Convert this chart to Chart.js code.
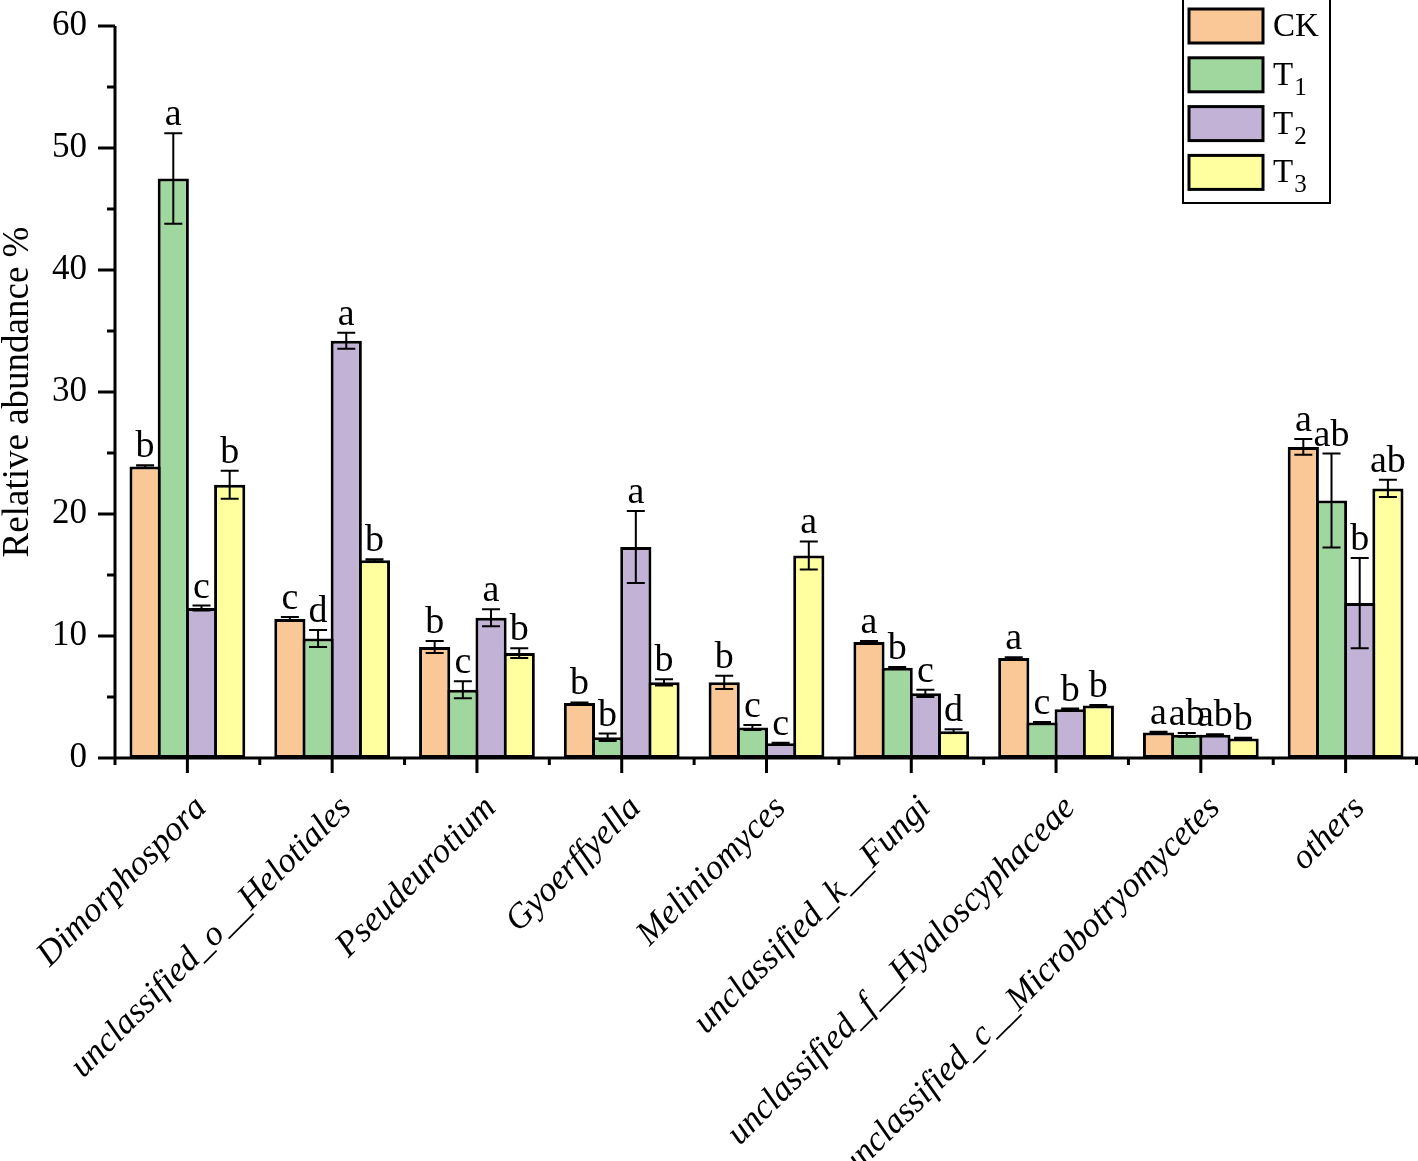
<!DOCTYPE html>
<html>
<head>
<meta charset="utf-8">
<script src="https://cdn.jsdelivr.net/npm/chart.js@4.4.0/dist/chart.umd.min.js"></script>
<style>
  html, body { margin: 0; padding: 0; background: #fff; }
  canvas { display: block; }
</style>
</head>
<body>
<canvas id="abundanceChart" width="1418" height="1161"></canvas>
<script>
  // ── Data ──
  var genera = ['Dimorphospora', 'unclassified_o__Helotiales', 'Pseudeurotium', 'Gyoerffyella', 'Meliniomyces',
                'unclassified_k__Fungi', 'unclassified_f__Hyaloscyphaceae', 'unclassified_c__Microbotryomycetes', 'others'];

  var ckVals = [23.9, 11.4, 9.1, 4.5, 6.2, 9.5, 8.2, 2.1, 25.5];
  var t1Vals = [47.5, 9.8, 5.6, 1.7, 2.5, 7.4, 2.9, 1.9, 21.1];
  var t2Vals = [12.3, 34.2, 11.5, 17.3, 1.2, 5.3, 4.0, 1.9, 12.7];
  var t3Vals = [22.4, 16.2, 8.6, 6.2, 16.6, 2.2, 4.3, 1.6, 22.1];

  var ckErr = [0.1, 0.15, 0.5, 0.05, 0.55, 0.1, 0.05, 0.05, 0.65];
  var t1Err = [3.7, 0.7, 0.7, 0.3, 0.2, 0.05, 0.05, 0.15, 3.85];
  var t2Err = [0.2, 0.65, 0.7, 2.95, 0.05, 0.3, 0.05, 0.05, 3.7];
  var t3Err = [1.15, 0.1, 0.4, 0.25, 1.15, 0.15, 0.05, 0.05, 0.7];

  var ckSig = ['b', 'c', 'b', 'b', 'b', 'a', 'a', 'a', 'a'];
  var t1Sig = ['a', 'd', 'c', 'b', 'c', 'b', 'c', 'ab', 'ab'];
  var t2Sig = ['c', 'a', 'a', 'a', 'c', 'c', 'b', 'ab', 'b'];
  var t3Sig = ['b', 'b', 'b', 'b', 'a', 'd', 'b', 'b', 'ab'];

  var yTicks = [0, 10, 20, 30, 40, 50, 60];

  var SERIF = "'Liberation Serif', 'Times New Roman', serif";

  function makeSet(label, sub, vals, errs, sig, color) {
    return {
      label: label, sub: sub, data: vals, errors: errs, sig: sig,
      backgroundColor: color, borderColor: '#000', borderWidth: 3, borderSkipped: false,
      barPercentage: 1.106, categoryPercentage: 0.779
    };
  }

  // error bars + significance letters
  var errorBarPlugin = {
    id: 'errorBars',
    afterDatasetsDraw: function(chart) {
      var ctx = chart.ctx, y = chart.scales.y;
      ctx.save();
      ctx.strokeStyle = '#000';
      ctx.fillStyle = '#000';
      ctx.lineWidth = 2;
      ctx.font = '38px ' + SERIF;
      ctx.textAlign = 'center';
      ctx.textBaseline = 'alphabetic';
      chart.data.datasets.forEach(function(ds, di) {
        chart.getDatasetMeta(di).data.forEach(function(bar, i) {
          var top = y.getPixelForValue(ds.data[i] + ds.errors[i]);
          var bot = y.getPixelForValue(ds.data[i] - ds.errors[i]);
          var x = bar.x;
          ctx.beginPath();
          ctx.moveTo(x, top); ctx.lineTo(x, bot);
          ctx.moveTo(x - 9, top); ctx.lineTo(x + 9, top);
          ctx.moveTo(x - 9, bot); ctx.lineTo(x + 9, bot);
          ctx.stroke();
          ctx.fillText(ds.sig[i], x, top - 8);
        });
      });
      ctx.restore();
    }
  };

  // axis lines, ticks and the boxed legend
  var framePlugin = {
    id: 'frame',
    afterDraw: function(chart) {
      var ctx = chart.ctx, x = chart.scales.x, y = chart.scales.y, a = chart.chartArea;
      ctx.save();
      ctx.strokeStyle = '#000';
      ctx.lineWidth = 3;
      ctx.beginPath();
      ctx.moveTo(a.left, a.top); ctx.lineTo(a.left, a.bottom);
      ctx.moveTo(a.left, a.bottom); ctx.lineTo(a.right, a.bottom);
      yTicks.forEach(function(v, k) {
        var py = y.getPixelForValue(v);
        ctx.moveTo(a.left - 17, py); ctx.lineTo(a.left, py);
        if (k < yTicks.length - 1) {
          var pm = y.getPixelForValue((v + yTicks[k + 1]) / 2);
          ctx.moveTo(a.left - 8, pm); ctx.lineTo(a.left, pm);
        }
      });
      var step = (a.right - a.left) / genera.length;
      genera.forEach(function(g, i) {
        var px = x.getPixelForValue(i);
        ctx.moveTo(px, a.bottom); ctx.lineTo(px, a.bottom + 15);
        ctx.moveTo(px - step / 2, a.bottom); ctx.lineTo(px - step / 2, a.bottom + 7);
      });
      ctx.moveTo(a.right - 1.5, a.bottom); ctx.lineTo(a.right - 1.5, a.bottom + 7);
      ctx.stroke();

      // legend
      ctx.lineWidth = 2;
      ctx.strokeRect(1183, -2, 147, 205);
      chart.data.datasets.forEach(function(ds, i) {
        var top = 9 + i * 48.8;
        ctx.fillStyle = ds.backgroundColor;
        ctx.fillRect(1189, top, 74, 34);
        ctx.lineWidth = 3;
        ctx.strokeRect(1189, top, 74, 34);
        ctx.fillStyle = '#000';
        ctx.textAlign = 'left';
        ctx.textBaseline = 'alphabetic';
        ctx.font = '33px ' + SERIF;
        ctx.fillText(ds.label, 1273, top + 27);
        if (ds.sub) {
          var w = ctx.measureText(ds.label).width;
          ctx.font = '25px ' + SERIF;
          ctx.fillText(ds.sub, 1273 + w + 1, top + 37);
        }
      });
      ctx.restore();
    }
  };

  var ctx = document.getElementById('abundanceChart').getContext('2d');
  var chart = new Chart(ctx, {
    type: 'bar',
    data: {
      labels: genera,
      datasets: [
        makeSet('CK', '', ckVals, ckErr, ckSig, '#F9C896'),
        makeSet('T', '1', t1Vals, t1Err, t1Sig, '#A0D79E'),
        makeSet('T', '2', t2Vals, t2Err, t2Sig, '#C2B2D6'),
        makeSet('T', '3', t3Vals, t3Err, t3Sig, '#FFFFA0')
      ]
    },
    options: {
      responsive: false,
      animation: false,
      devicePixelRatio: 1,
      layout: { padding: { top: 26, right: 0, bottom: 0, left: 0 } },
      plugins: { legend: { display: false }, tooltip: { enabled: false } },
      scales: {
        x: {
          grid: { display: false, drawTicks: false },
          border: { display: false },
          ticks: {
            autoSkip: false, minRotation: 45, maxRotation: 45,
            padding: 30, labelOffset: 14, color: '#000',
            font: { family: SERIF, size: 35, style: 'italic' }
          },
          afterFit: function(s) {
            s.height = 403;
            s.paddingLeft = 0; s.paddingRight = 0; s.paddingTop = 0; s.paddingBottom = 0;
          }
        },
        y: {
          min: 0, max: 60,
          afterBuildTicks: function(s) { s.ticks = yTicks.map(function(v) { return { value: v }; }); },
          grid: { display: false, drawTicks: false },
          border: { display: false },
          ticks: { padding: 28, color: '#000', font: { family: SERIF, size: 35 } },
          title: {
            display: true, text: 'Relative abundance %', color: '#000', padding: 0,
            font: { family: SERIF, size: 37, lineHeight: 1 }
          },
          afterFit: function(s) {
            s.width = 115;
            s.paddingLeft = 0; s.paddingRight = 0; s.paddingTop = 0; s.paddingBottom = 0;
          }
        }
      }
    },
    plugins: [errorBarPlugin, framePlugin]
  });
</script>
</body>
</html>
